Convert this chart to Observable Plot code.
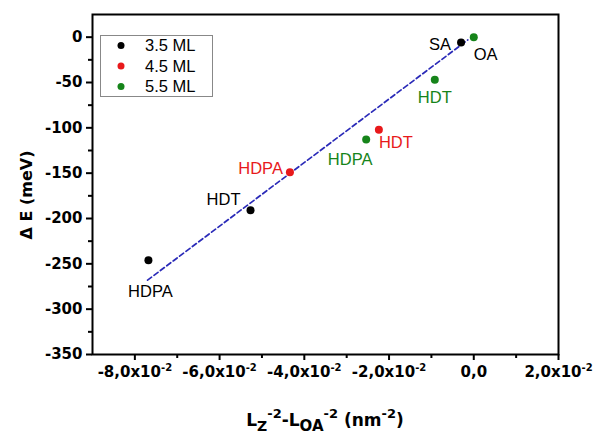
<!DOCTYPE html>
<html>
<head>
<meta charset="utf-8">
<script src="https://cdn.jsdelivr.net/npm/d3@7"></script>
<script src="https://cdn.jsdelivr.net/npm/@observablehq/plot@0.6"></script>
<style>
  html, body { margin: 0; padding: 0; background: #fff; }
  #chart { width: 596px; height: 435px; overflow: hidden; }
</style>
</head>
<body>
<div id="chart"></div>
<script>
// ---- data ----
const series = ["3.5 ML", "4.5 ML", "5.5 ML"];
const seriesColors = ["#000000", "#e8191b", "#16841a"];

const ptSeries = ["3.5 ML", "3.5 ML", "3.5 ML", "4.5 ML", "4.5 ML", "5.5 ML", "5.5 ML", "5.5 ML"];
const ptX = [-0.0768, -0.0527, -0.0030, -0.0434, -0.0224, 0.0000, -0.0092, -0.0254];
const ptY = [-246, -191, -6, -149, -102, 0, -47, -113];
const ptLabel = ["HDPA", "HDT", "SA", "HDPA", "HDT", "OA", "HDT", "HDPA"];
const labelSeries = ["3.5 ML", "3.5 ML", "3.5 ML", "4.5 ML", "4.5 ML", "3.5 ML", "5.5 ML", "5.5 ML"];

const fitX = [-0.0770, -0.0014];
const fitY = [-268, -3];

const xTicks = [-0.08, -0.06, -0.04, -0.02, 0, 0.02];
const xTickLabels = ["-8,0x10^-2", "-6,0x10^-2", "-4,0x10^-2", "-2,0x10^-2", "0,0", "2,0x10^-2"];
const xMinorTicks = [-0.07, -0.05, -0.03, -0.01, 0.01];
const yTicks = [0, -50, -100, -150, -200, -250, -300, -350];
const yMinorTicks = [-25, -75, -125, -175, -225, -275, -325];

const yTitle = "Δ E (meV)";

// ---- tables ----
const points = ptX.map((x, i) => ({x, y: ptY[i], series: ptSeries[i], label: ptLabel[i], labelSeries: labelSeries[i]}));
const fit = fitX.map((x, i) => ({x, y: fitY[i]}));

// label placement (pixel offsets from each point)
const labelLayout = [
  {dx: 2, dy: 32, anchor: "middle"},
  {dx: -10, dy: -11, anchor: "end"},
  {dx: -10, dy: 2, anchor: "end"},
  {dx: -7, dy: -4, anchor: "end"},
  {dx: 0, dy: 13, anchor: "start"},
  {dx: 0, dy: 18, anchor: "start"},
  {dx: 0, dy: 18, anchor: "middle"},
  {dx: -16, dy: 20, anchor: "middle"}
];

const font = "'Liberation Sans', Arial, Helvetica, sans-serif";
const boldFont = "'DejaVu Sans', Verdana, sans-serif";

const labelMarks = points.map((p, i) => Plot.text([p], {
  x: "x", y: "y", text: "label", fill: "labelSeries",
  dx: labelLayout[i].dx, dy: labelLayout[i].dy, textAnchor: labelLayout[i].anchor,
  fontSize: 16.5
}));

const chart = Plot.plot({
  width: 596,
  height: 435,
  marginLeft: 92,
  marginRight: 38,
  marginTop: 14,
  marginBottom: 81,
  style: {fontFamily: font, background: "#fff", color: "#000", overflow: "visible"},
  x: {domain: [-0.09, 0.02]},
  y: {domain: [-350, 25]},
  color: {domain: series, range: seriesColors},
  marks: [
    Plot.axisX(xTicks, {tickSize: 6, strokeWidth: 2, tickPadding: 6, fontSize: 15, fontWeight: "bold",
      fontFamily: boldFont, tickFormat: (d) => xTickLabels[xTicks.indexOf(d)], label: null}),
    Plot.axisX(xMinorTicks, {tickSize: 4, strokeWidth: 2, text: null, label: null}),
    Plot.axisY(yTicks, {tickSize: 6, strokeWidth: 2, tickPadding: 4, fontSize: 15, fontWeight: "bold",
      fontFamily: boldFont, tickFormat: (d) => String(d), label: null}),
    Plot.axisY(yMinorTicks, {tickSize: 4, strokeWidth: 2, text: null, label: null}),
    Plot.line(fit, {x: "x", y: "y", stroke: "#2a2ab8", strokeWidth: 1.7, strokeDasharray: "5,3"}),
    Plot.dot(points, {x: "x", y: "y", fill: "series", r: 4}),
    ...labelMarks,
    Plot.frame({stroke: "#000", strokeWidth: 2})
  ]
});

document.getElementById("chart").appendChild(chart);

const svg = d3.select(chart);
const color = chart.scale("color");

// superscripts in x tick labels
svg.selectAll("[aria-label='x-axis tick label'] text").each(function () {
  const t = d3.select(this);
  const s = t.text();
  if (s.includes("^")) {
    const [base, sup] = s.split("^");
    t.text(null);
    t.append("tspan").text(base);
    t.append("tspan").attr("font-size", 10).attr("dy", "-0.6em").text(sup);
  }
});

// y axis title
svg.append("text")
  .attr("transform", "translate(32,195) rotate(-90)")
  .attr("text-anchor", "middle")
  .attr("font-family", boldFont)
  .attr("font-weight", "bold")
  .attr("font-size", 16)
  .attr("fill", "#000")
  .text(yTitle);

// x axis title: L_Z^-2 - L_OA^-2 (nm^-2)
const xt = svg.append("text")
  .attr("x", 325).attr("y", 426)
  .attr("text-anchor", "middle")
  .attr("font-family", boldFont)
  .attr("font-weight", "bold")
  .attr("font-size", 17)
  .attr("fill", "#000");
const parts = [
  {t: "L", fs: 17, dy: 0},
  {t: "Z", fs: 14, dy: 5},
  {t: "-2", fs: 13, dy: -13},
  {t: "-L", fs: 17, dy: 8},
  {t: "OA", fs: 15, dy: 5},
  {t: "-2", fs: 13, dy: -13},
  {t: " (nm", fs: 17, dy: 8},
  {t: "-2", fs: 13, dy: -8},
  {t: ")", fs: 17, dy: 8}
];
parts.forEach(p => xt.append("tspan").attr("font-size", p.fs).attr("dy", p.dy).text(p.t));

// legend
const lg = svg.append("g").attr("font-family", font).attr("text-anchor", "start");
lg.append("rect").attr("x", 100.5).attr("y", 35.5).attr("width", 112).attr("height", 61)
  .attr("fill", "#fff").attr("stroke", "#888").attr("stroke-width", 1);
series.forEach((s, i) => {
  const cy = 45.5 + i * 20.5;
  lg.append("circle").attr("cx", 121).attr("cy", cy).attr("r", 3.5).attr("fill", color.apply(s));
  lg.append("text").attr("x", 145).attr("y", cy).attr("dy", "0.35em")
    .attr("text-anchor", "start").attr("font-size", 16.5).attr("fill", "#000").text(s);
});
</script>
</body>
</html>
